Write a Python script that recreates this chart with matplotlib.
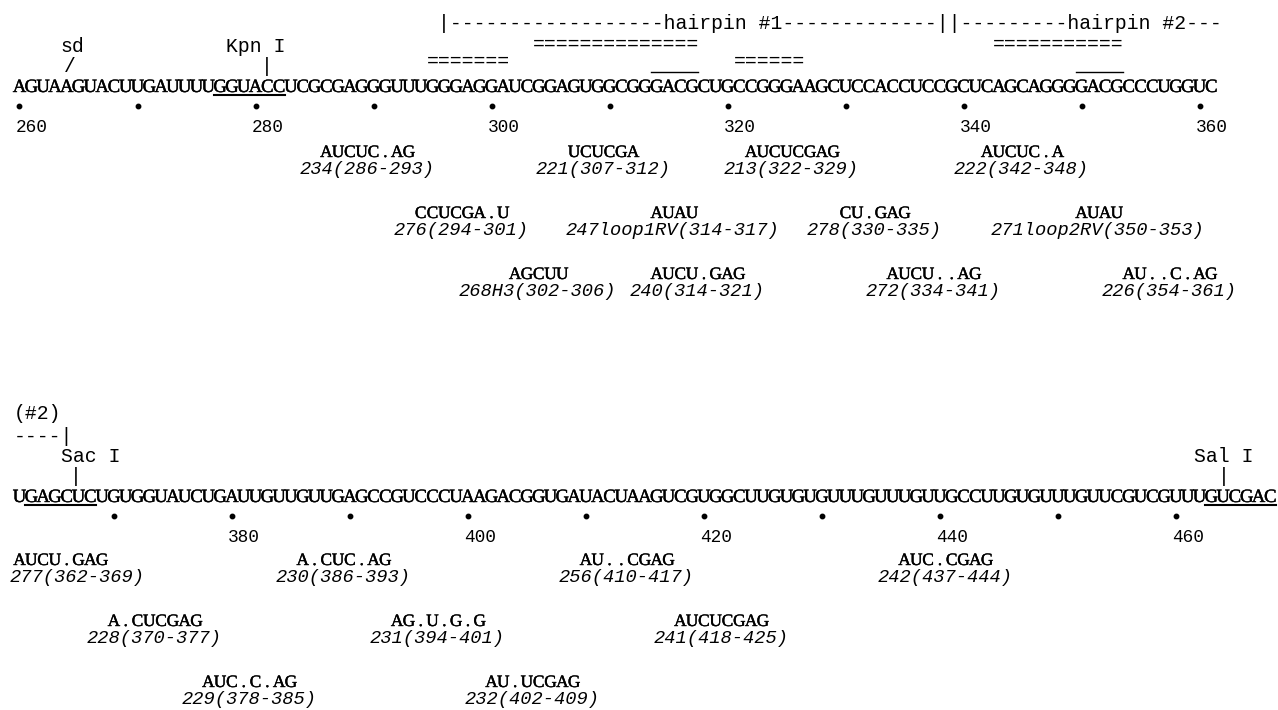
import matplotlib.pyplot as plt
import matplotlib.patheffects as pe

# sequence, first base number of each printed line
seq1 = "AGUAAGUACUUGAUUUUGGUACCUCGCGAGGGUUUGGGAGGAUCGGAGUGGCGGGACGCUGCCGGGAAGCUCCACCUCCGCUCAGCAGGGGACGCCCUGGUC"
seq2 = "UGAGCUCUGUGGUAUCUGAUUGUUGUUGAGCCGUCCCUAAGACGGUGAUACUAAGUCGUGGCUUGUGUGUUUGUUUGUUGCCUUGUGUUUGUUCGUCGUUUGUCGAC"
start1 = 260
start2 = 362

# restriction sites: name, underlined bases, tick position, label start
site_names = ["Kpn I", "Sac I", "Sal I"]
site_from = [277, 363, 463]
site_to = [282, 368, 468]
site_tick = [281, 366.8, 464.1]
site_label = [278, 366, 462]

# Shine-Dalgarno mark
sd_label = 264
sd_tick = 264.3

# loops (overlined) and stem marks (=== rows)
loop_from = [314, 350]
loop_to = [317, 353]
stem_hi_from = [304, 343]
stem_hi_to = [317, 353]
stem_lo_from = [295, 321]
stem_lo_to = [301, 326]

# hairpin bracket text, start base
hairpin_text1 = "|" + "-" * 18 + "hairpin #1" + "-" * 13 + "||" + "-" * 9 + "hairpin #2---"
hairpin_start1 = 296
hairpin_text2a = "(#2)"
hairpin_text2b = "----|"

# probes: motif, id, range, row under the sequence
probe_motif = ["AUCUC.AG", "UCUCGA", "AUCUCGAG", "AUCUC.A",
               "CCUCGA.U", "AUAU", "CU.GAG", "AUAU",
               "AGCUU", "AUCU.GAG", "AUCU..AG", "AU..C.AG",
               "AUCU.GAG", "A.CUC.AG", "AU..CGAG", "AUC.CGAG",
               "A.CUCGAG", "AG.U.G.G", "AUCUCGAG",
               "AUC.C.AG", "AU.UCGAG"]
probe_id = ["234", "221", "213", "222",
            "276", "247loop1RV", "278", "271loop2RV",
            "268H3", "240", "272", "226",
            "277", "230", "256", "242",
            "228", "231", "241",
            "229", "232"]
probe_from = [286, 307, 322, 342,
              294, 314, 330, 350,
              302, 314, 334, 354,
              362, 386, 410, 437,
              370, 394, 418,
              378, 402]
probe_to = [293, 312, 329, 348,
            301, 317, 335, 353,
            306, 321, 341, 361,
            369, 393, 417, 444,
            377, 401, 425,
            385, 409]
probe_row = [0, 0, 0, 0,
             1, 1, 1, 1,
             2, 2, 2, 2,
             0, 0, 0, 0,
             1, 1, 1,
             2, 2]

thick = [pe.withStroke(linewidth=0.3, foreground="black")]
SEQ = dict(family="Liberation Serif", size=13.5, path_effects=thick)
MOTIF = dict(family="Liberation Serif", size=12.5, path_effects=thick)
MONO = dict(family="Liberation Mono", size=14.2)
ITAL = dict(family="Liberation Mono", size=13.5, style="italic")
NUM = dict(family="Liberation Mono", size=12.8)

CH = 11.8  # px per base
fig = plt.figure(figsize=(12.78, 7.10), dpi=100)
ax = fig.add_axes([0, 0, 1, 1])
ax.set_xlim(-19.5 / CH, (1278 - 19.5) / CH)
ax.set_ylim(710, 0)
ax.axis("off")

lines = [(seq1, start1, 0), (seq2, start2, 410)]


def where(pos):
    # base number -> (column, vertical offset of its line)
    if pos < start2:
        return pos - start1, 0
    return pos - start2, 410


def grid_text(x0, y, s, step=1.0, **kw):
    # one glyph per column, like the typewriter original
    for k, ch in enumerate(s):
        ax.text(x0 + k * step, y, ch, ha="center", va="baseline", **kw)


for seq, start, dy in lines:
    grid_text(0, 92 + dy, seq, **SEQ)
    ticks = [p for p in range(start, start + len(seq)) if p % 10 == 0]
    ax.plot([p - start for p in ticks], [105.5 + dy] * len(ticks), "o",
            color="black", ms=3.2)
    for p in ticks:
        if p % 20 == 0:
            ax.text(p - start - 0.34, 132 + dy, str(p), ha="left",
                    va="baseline", **NUM)

# restriction sites
for name, a, b, t, lab in zip(site_names, site_from, site_to, site_tick, site_label):
    c0, dy = where(a)
    c1, _ = where(b)
    ax.plot([c0 - 0.5, c1 + 0.5], [95 + dy, 95 + dy], color="black", lw=1.5)
    ct, _ = where(t)
    ax.text(ct, 66 + dy, "|", ha="center", va="center", **MONO)
    cl, _ = where(lab)
    ax.text(cl - 0.5, 52 + dy, name, ha="left", va="baseline", **MONO)

c, _ = where(sd_label)
ax.text(c - 0.5, 52, "sd", ha="left", va="baseline", **MONO)
c, _ = where(sd_tick)
ax.text(c, 66, "/", ha="center", va="center", **MONO)

# loops and stems
for a, b in zip(loop_from, loop_to):
    c0, dy = where(a)
    c1, _ = where(b)
    ax.plot([c0 - 0.5, c1 + 0.5], [72, 72], color="black", lw=1.0)
for a, b in zip(stem_hi_from, stem_hi_to):
    c0, _ = where(a)
    ax.text(c0 - 0.5, 44, "=" * (b - a + 1), ha="left", va="center", **MONO)
for a, b in zip(stem_lo_from, stem_lo_to):
    c0, _ = where(a)
    ax.text(c0 - 0.5, 61, "=" * (b - a + 1), ha="left", va="center", **MONO)

# hairpin brackets
c, _ = where(hairpin_start1)
ax.text(c - 0.5, 29, hairpin_text1, ha="left", va="baseline", **MONO)
ax.text(-0.5, 419, hairpin_text2a, ha="left", va="baseline", **MONO)
ax.text(-0.5, 442, hairpin_text2b, ha="left", va="baseline", **MONO)

# probes
for motif, pid, a, b, row in zip(probe_motif, probe_id, probe_from, probe_to, probe_row):
    c0, dy = where(a)
    c1, _ = where(b)
    mid = (c0 + c1) / 2
    dy = dy - 2 if dy else 0
    grid_text(mid - (len(motif) - 1) / 2, 157 + 61 * row + dy, motif, **MOTIF)
    label = f"{pid}({a}-{b})"
    left = max(mid - len(label) * 11.4 / CH / 2, -0.8)
    ax.text(left, 174 + 61 * row + dy, label, ha="left", va="baseline", **ITAL)

fig.savefig("out.png", dpi=100)
